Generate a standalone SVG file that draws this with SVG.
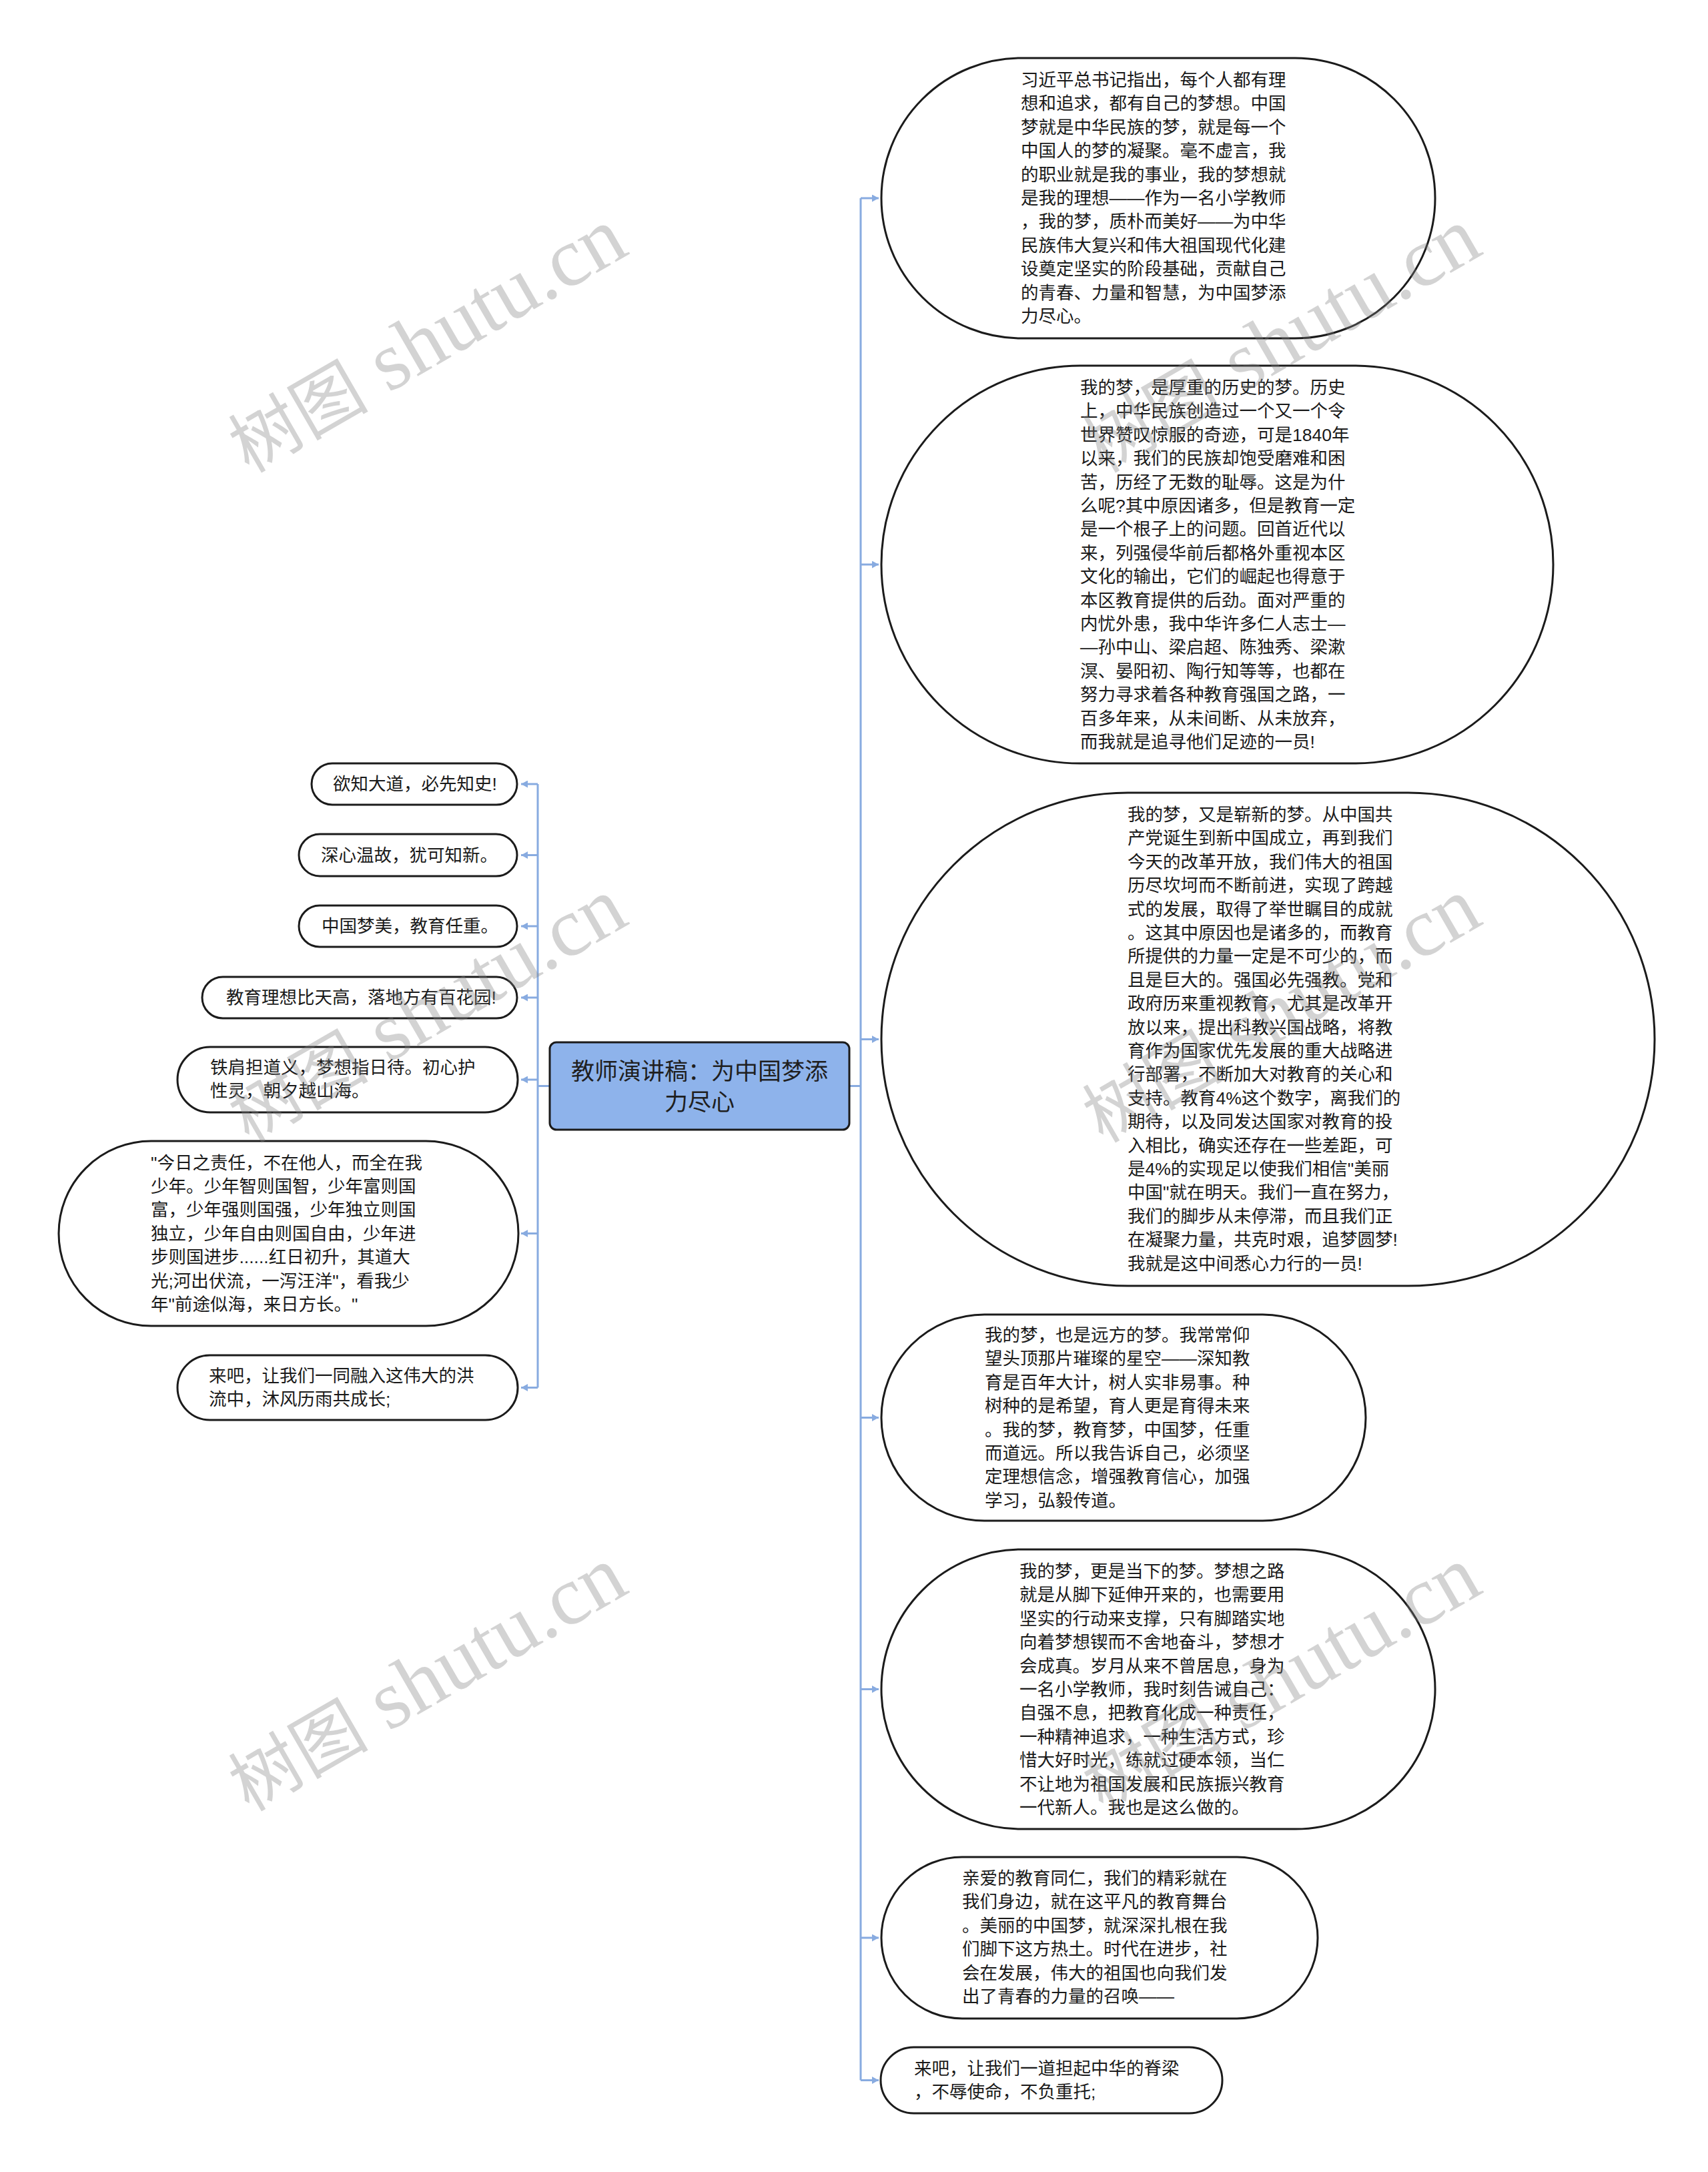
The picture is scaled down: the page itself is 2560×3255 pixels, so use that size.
<svg xmlns="http://www.w3.org/2000/svg" width="2560" height="3255" viewBox="0 0 2560 3255">
<style>
.nd{fill:#ffffff;stroke:#1b1b1b;stroke-width:3}
.ct{fill:#8eb3eb;stroke:#1b1b1b;stroke-width:3}
.t{font-family:'Liberation Sans','Noto Sans CJK SC',sans-serif;font-size:26.5px;fill:#1a1a1a;dominant-baseline:central}
.tc{font-family:'Liberation Sans','Noto Sans CJK SC',sans-serif;font-size:35px;fill:#1f1f1f;dominant-baseline:central;text-anchor:middle}
.cn{fill:none;stroke:#88abe0;stroke-width:3}
.wm{font-family:'Liberation Serif','Noto Sans CJK SC',serif;font-size:125px;fill:#808080;fill-opacity:0.35}
</style>
<defs>
<marker id="ah" markerUnits="userSpaceOnUse" markerWidth="11" markerHeight="11" refX="10" refY="5.5" orient="auto">
<path d="M0,0 L10,5.5 L0,11 z" fill="#88abe0"/>
</marker>
</defs>
<rect width="2560" height="3255" fill="#ffffff"/>
<g id="connectors">
<path class="cn" d="M824,1627.5 H806 M806,1175 V2079.5"/>
<path class="cn" d="M806,1175 H781" marker-end="url(#ah)"/>
<path class="cn" d="M806,1281.5 H781" marker-end="url(#ah)"/>
<path class="cn" d="M806,1388 H781" marker-end="url(#ah)"/>
<path class="cn" d="M806,1495 H781" marker-end="url(#ah)"/>
<path class="cn" d="M806,1618 H781" marker-end="url(#ah)"/>
<path class="cn" d="M806,1848.5 H781" marker-end="url(#ah)"/>
<path class="cn" d="M806,2079.5 H781" marker-end="url(#ah)"/>
<path class="cn" d="M1273,1627.5 H1290 M1290,297 V3117.5"/>
<path class="cn" d="M1290,297 H1317" marker-end="url(#ah)"/>
<path class="cn" d="M1290,846 H1317" marker-end="url(#ah)"/>
<path class="cn" d="M1290,1557.5 H1317" marker-end="url(#ah)"/>
<path class="cn" d="M1290,2124.5 H1317" marker-end="url(#ah)"/>
<path class="cn" d="M1290,2531.5 H1317" marker-end="url(#ah)"/>
<path class="cn" d="M1290,2904 H1317" marker-end="url(#ah)"/>
<path class="cn" d="M1290,3117.5 H1317" marker-end="url(#ah)"/>
</g>
<g id="center">
<rect class="ct" x="824" y="1562" width="449" height="131" rx="10"/>
<text class="tc"><tspan x="1048.5" y="1605">教师演讲稿：为中国梦添</tspan><tspan x="1048.5" y="1651">力尽心</tspan></text>
</g>
<g id="r1">
<rect class="nd" x="1321" y="87" width="830" height="420" rx="210"/>
<text class="t" x="1530" y="120"><tspan x="1530" dy="0">习近平总书记指出，每个人都有理</tspan><tspan x="1530" dy="35.4">想和追求，都有自己的梦想。中国</tspan><tspan x="1530" dy="35.4">梦就是中华民族的梦，就是每一个</tspan><tspan x="1530" dy="35.4">中国人的梦的凝聚。毫不虚言，我</tspan><tspan x="1530" dy="35.4">的职业就是我的事业，我的梦想就</tspan><tspan x="1530" dy="35.4">是我的理想——作为一名小学教师</tspan><tspan x="1530" dy="35.4">，我的梦，质朴而美好——为中华</tspan><tspan x="1530" dy="35.4">民族伟大复兴和伟大祖国现代化建</tspan><tspan x="1530" dy="35.4">设奠定坚实的阶段基础，贡献自己</tspan><tspan x="1530" dy="35.4">的青春、力量和智慧，为中国梦添</tspan><tspan x="1530" dy="35.4">力尽心。</tspan></text>
</g>
<g id="r2">
<rect class="nd" x="1321" y="548" width="1007" height="596" rx="298"/>
<text class="t" x="1619" y="581"><tspan x="1619" dy="0">我的梦，是厚重的历史的梦。历史</tspan><tspan x="1619" dy="35.4">上，中华民族创造过一个又一个令</tspan><tspan x="1619" dy="35.4">世界赞叹惊服的奇迹，可是1840年</tspan><tspan x="1619" dy="35.4">以来，我们的民族却饱受磨难和困</tspan><tspan x="1619" dy="35.4">苦，历经了无数的耻辱。这是为什</tspan><tspan x="1619" dy="35.4">么呢?其中原因诸多，但是教育一定</tspan><tspan x="1619" dy="35.4">是一个根子上的问题。回首近代以</tspan><tspan x="1619" dy="35.4">来，列强侵华前后都格外重视本区</tspan><tspan x="1619" dy="35.4">文化的输出，它们的崛起也得意于</tspan><tspan x="1619" dy="35.4">本区教育提供的后劲。面对严重的</tspan><tspan x="1619" dy="35.4">内忧外患，我中华许多仁人志士—</tspan><tspan x="1619" dy="35.4">—孙中山、梁启超、陈独秀、梁漱</tspan><tspan x="1619" dy="35.4">溟、晏阳初、陶行知等等，也都在</tspan><tspan x="1619" dy="35.4">努力寻求着各种教育强国之路，一</tspan><tspan x="1619" dy="35.4">百多年来，从未间断、从未放弃，</tspan><tspan x="1619" dy="35.4">而我就是追寻他们足迹的一员!</tspan></text>
</g>
<g id="r3">
<rect class="nd" x="1321" y="1188" width="1159" height="739" rx="369.5"/>
<text class="t" x="1690" y="1221"><tspan x="1690" dy="0">我的梦，又是崭新的梦。从中国共</tspan><tspan x="1690" dy="35.4">产党诞生到新中国成立，再到我们</tspan><tspan x="1690" dy="35.4">今天的改革开放，我们伟大的祖国</tspan><tspan x="1690" dy="35.4">历尽坎坷而不断前进，实现了跨越</tspan><tspan x="1690" dy="35.4">式的发展，取得了举世瞩目的成就</tspan><tspan x="1690" dy="35.4">。这其中原因也是诸多的，而教育</tspan><tspan x="1690" dy="35.4">所提供的力量一定是不可少的，而</tspan><tspan x="1690" dy="35.4">且是巨大的。强国必先强教。党和</tspan><tspan x="1690" dy="35.4">政府历来重视教育，尤其是改革开</tspan><tspan x="1690" dy="35.4">放以来，提出科教兴国战略，将教</tspan><tspan x="1690" dy="35.4">育作为国家优先发展的重大战略进</tspan><tspan x="1690" dy="35.4">行部署，不断加大对教育的关心和</tspan><tspan x="1690" dy="35.4">支持。教育4%这个数字，离我们的</tspan><tspan x="1690" dy="35.4">期待，以及同发达国家对教育的投</tspan><tspan x="1690" dy="35.4">入相比，确实还存在一些差距，可</tspan><tspan x="1690" dy="35.4">是4%的实现足以使我们相信"美丽</tspan><tspan x="1690" dy="35.4">中国"就在明天。我们一直在努力，</tspan><tspan x="1690" dy="35.4">我们的脚步从未停滞，而且我们正</tspan><tspan x="1690" dy="35.4">在凝聚力量，共克时艰，追梦圆梦!</tspan><tspan x="1690" dy="35.4">我就是这中间悉心力行的一员!</tspan></text>
</g>
<g id="r4">
<rect class="nd" x="1321" y="1970" width="726" height="309" rx="154.5"/>
<text class="t" x="1476" y="2001"><tspan x="1476" dy="0">我的梦，也是远方的梦。我常常仰</tspan><tspan x="1476" dy="35.4">望头顶那片璀璨的星空——深知教</tspan><tspan x="1476" dy="35.4">育是百年大计，树人实非易事。种</tspan><tspan x="1476" dy="35.4">树种的是希望，育人更是育得未来</tspan><tspan x="1476" dy="35.4">。我的梦，教育梦，中国梦，任重</tspan><tspan x="1476" dy="35.4">而道远。所以我告诉自己，必须坚</tspan><tspan x="1476" dy="35.4">定理想信念，增强教育信心，加强</tspan><tspan x="1476" dy="35.4">学习，弘毅传道。</tspan></text>
</g>
<g id="r5">
<rect class="nd" x="1321" y="2322" width="830" height="419" rx="209.5"/>
<text class="t" x="1528" y="2355"><tspan x="1528" dy="0">我的梦，更是当下的梦。梦想之路</tspan><tspan x="1528" dy="35.4">就是从脚下延伸开来的，也需要用</tspan><tspan x="1528" dy="35.4">坚实的行动来支撑，只有脚踏实地</tspan><tspan x="1528" dy="35.4">向着梦想锲而不舍地奋斗，梦想才</tspan><tspan x="1528" dy="35.4">会成真。岁月从来不曾居息，身为</tspan><tspan x="1528" dy="35.4">一名小学教师，我时刻告诫自己：</tspan><tspan x="1528" dy="35.4">自强不息，把教育化成一种责任，</tspan><tspan x="1528" dy="35.4">一种精神追求，一种生活方式，珍</tspan><tspan x="1528" dy="35.4">惜大好时光，练就过硬本领，当仁</tspan><tspan x="1528" dy="35.4">不让地为祖国发展和民族振兴教育</tspan><tspan x="1528" dy="35.4">一代新人。我也是这么做的。</tspan></text>
</g>
<g id="r6">
<rect class="nd" x="1321" y="2783" width="654" height="242" rx="121"/>
<text class="t" x="1442" y="2815"><tspan x="1442" dy="0">亲爱的教育同仁，我们的精彩就在</tspan><tspan x="1442" dy="35.4">我们身边，就在这平凡的教育舞台</tspan><tspan x="1442" dy="35.4">。美丽的中国梦，就深深扎根在我</tspan><tspan x="1442" dy="35.4">们脚下这方热土。时代在进步，社</tspan><tspan x="1442" dy="35.4">会在发展，伟大的祖国也向我们发</tspan><tspan x="1442" dy="35.4">出了青春的力量的召唤——</tspan></text>
</g>
<g id="r7">
<rect class="nd" x="1320" y="3068" width="512" height="99" rx="49.5"/>
<text class="t" x="1370" y="3100"><tspan x="1370" dy="0">来吧，让我们一道担起中华的脊梁</tspan><tspan x="1370" dy="35.4">，不辱使命，不负重托;</tspan></text>
</g>
<g id="l1">
<rect class="nd" x="467" y="1144" width="308" height="62" rx="31"/>
<text class="t" x="499" y="1175">欲知大道，必先知史!</text>
</g>
<g id="l2">
<rect class="nd" x="448" y="1250" width="327" height="63" rx="31.5"/>
<text class="t" x="481" y="1281.5">深心温故，犹可知新。</text>
</g>
<g id="l3">
<rect class="nd" x="448" y="1357" width="327" height="62" rx="31"/>
<text class="t" x="482" y="1388">中国梦美，教育任重。</text>
</g>
<g id="l4">
<rect class="nd" x="303" y="1464" width="472" height="62" rx="31"/>
<text class="t" x="339" y="1495">教育理想比天高，落地方有百花园!</text>
</g>
<g id="l5">
<rect class="nd" x="266" y="1569" width="510" height="98" rx="49"/>
<text class="t" x="315" y="1600"><tspan x="315" dy="0">铁肩担道义，梦想指日待。初心护</tspan><tspan x="315" dy="35.4">性灵，朝夕越山海。</tspan></text>
</g>
<g id="l6">
<rect class="nd" x="88" y="1710" width="689" height="277" rx="138.5"/>
<text class="t" x="226" y="1742.5"><tspan x="226" dy="0">"今日之责任，不在他人，而全在我</tspan><tspan x="226" dy="35.4">少年。少年智则国智，少年富则国</tspan><tspan x="226" dy="35.4">富，少年强则国强，少年独立则国</tspan><tspan x="226" dy="35.4">独立，少年自由则国自由，少年进</tspan><tspan x="226" dy="35.4">步则国进步......红日初升，其道大</tspan><tspan x="226" dy="35.4">光;河出伏流，一泻汪洋"，看我少</tspan><tspan x="226" dy="35.4">年"前途似海，来日方长。"</tspan></text>
</g>
<g id="l7">
<rect class="nd" x="266" y="2031" width="510" height="97" rx="48.5"/>
<text class="t" x="313" y="2062"><tspan x="313" dy="0">来吧，让我们一同融入这伟大的洪</tspan><tspan x="313" dy="35.4">流中，沐风历雨共成长;</tspan></text>
</g>
<g id="watermarks">
<text class="wm" transform="translate(373,710) rotate(-30)"><tspan font-size="105">树图</tspan> shutu.cn</text>
<text class="wm" transform="translate(1653,710) rotate(-30)"><tspan font-size="105">树图</tspan> shutu.cn</text>
<text class="wm" transform="translate(373,1714) rotate(-30)"><tspan font-size="105">树图</tspan> shutu.cn</text>
<text class="wm" transform="translate(1653,1714) rotate(-30)"><tspan font-size="105">树图</tspan> shutu.cn</text>
<text class="wm" transform="translate(373,2716) rotate(-30)"><tspan font-size="105">树图</tspan> shutu.cn</text>
<text class="wm" transform="translate(1653,2716) rotate(-30)"><tspan font-size="105">树图</tspan> shutu.cn</text>
</g>
</svg>
